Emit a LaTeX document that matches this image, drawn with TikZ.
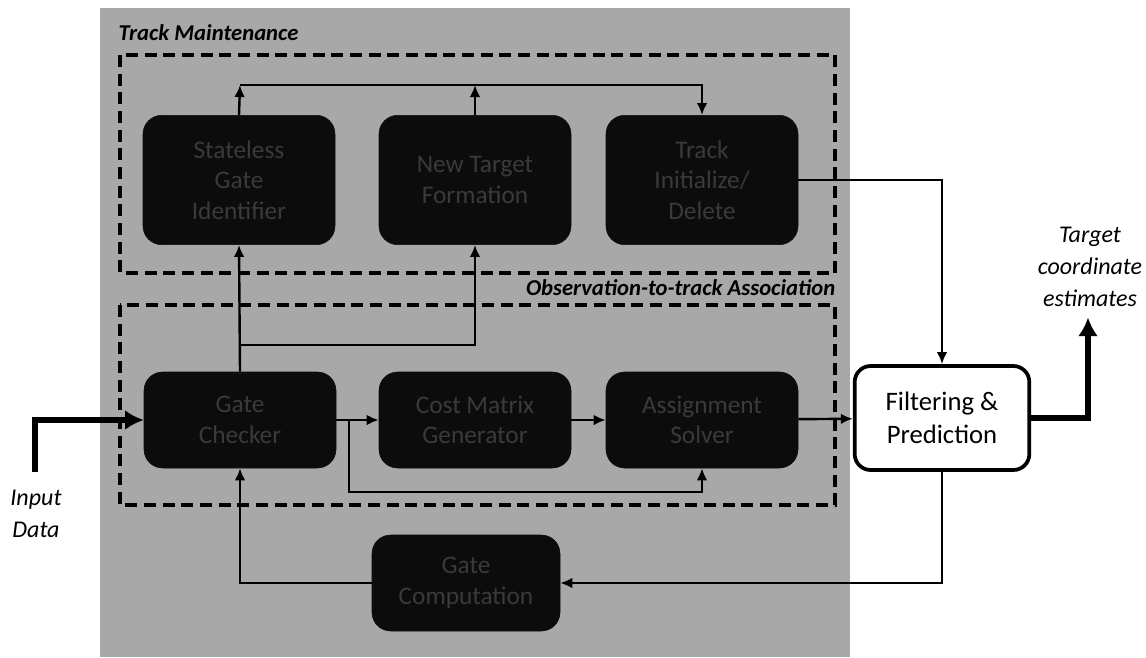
\documentclass[tikz,border=0pt]{standalone}
\usepackage{fontspec}
\setmainfont{Carlito}
\usetikzlibrary{positioning, calc, arrows.meta}
\definecolor{texture}{HTML}{A8A8A8}
\definecolor{blockfill}{HTML}{0C0C0C}
\definecolor{blocktext}{HTML}{3A3A3A}

\begin{document}
\begin{tikzpicture}[
        x=0.75pt, y=-0.75pt,
        font=\fontsize{19}{23}\selectfont,
        block/.style={rectangle, rounded corners=14pt, draw=blockfill, fill=blockfill, text=blocktext, minimum width=144pt, minimum height=97pt, align=center},
        lowblock/.style={block, minimum height=72pt},
        filter/.style={rectangle, rounded corners=12pt, draw, line width=2.8pt, fill=white, minimum width=131pt, minimum height=78pt, align=center, font=\fontsize{20}{25}\selectfont},
        group/.style={draw, dashed, line width=2.3pt, dash pattern=on 9pt off 5pt},
        grouplabel/.style={font=\fontsize{17}{20}\selectfont\bfseries\itshape},
        extlabel/.style={align=center, font=\fontsize{18}{24}\selectfont\itshape},
        arrow/.style={-{Latex[length=9pt, width=8pt]}, line width=1.8pt},
        bigarrow/.style={-{Latex[length=14pt, width=15pt]}, line width=4pt}
    ]

        % Background
        \useasboundingbox (0,0) rectangle (1146,657);
        \fill[texture] (100,8) rectangle (850,657);

        % Groups
        \draw[group] (120,55) rectangle (835,273);
        \draw[group] (120,305) rectangle (835,505);
        \node[grouplabel, anchor=west] (tmlabel) at (114,33) {Track Maintenance};
        \node[grouplabel, anchor=east] (oalabel) at (840,288) {Observation-to-track Association};

        % Nodes
        \node[block] (stateless) at (239,180) {Stateless\\Gate\\Identifier};
        \node[block] (newtarget) at (475,180) {New Target\\Formation};
        \node[block] (trackinit) at (702,180) {Track\\Initialize/\\Delete};

        \node[lowblock] (gatechk) at (240,420) {Gate\\Checker};
        \node[lowblock] (costmat) at (475,420) {Cost Matrix\\Generator};
        \node[lowblock] (assign) at (702,420) {Assignment\\Solver};
        \node[lowblock, minimum width=141pt] (gatecomp) at (466,583) {Gate\\Computation};

        \node[filter] (filter) at (942,418) {Filtering \&\\Prediction};

        \node[extlabel] (input) at (36,514) {Input\\Data};
        \node[extlabel] (output) at (1090,267) {Target\\coordinate\\estimates};

        \coordinate (top) at (240,85);
        \coordinate (branch) at (240,345);
        \coordinate (split) at (349,420);
        \coordinate (low) at (349,492);
        \coordinate (start) at (35,472);

        % Edges
        \draw[bigarrow] (start) |- (gatechk.west);
        \draw[arrow] (gatechk) -- (costmat);
        \draw[arrow] (costmat) -- (assign);
        \draw[arrow] (assign) -- (filter);
        \draw[arrow] (split) -- (low) -| (assign.south);

        \draw[arrow] (gatechk.north) -- (stateless.south);
        \draw[arrow] (branch) -| (newtarget.south);

        \draw[arrow] (stateless.north) -- (top);
        \draw[arrow] (newtarget.north) -- (newtarget.north |- top);
        \draw[arrow] (top) -| (trackinit.north);

        \draw[arrow] (trackinit.east) -| (filter.north);
        \draw[arrow] (filter.south) |- (gatecomp.east);
        \draw[arrow] (gatecomp.west) -| (gatechk.south);

        \draw[bigarrow] (filter.east) -| ($(output.south)+(-2,6)$);

    \end{tikzpicture}
\end{document}
